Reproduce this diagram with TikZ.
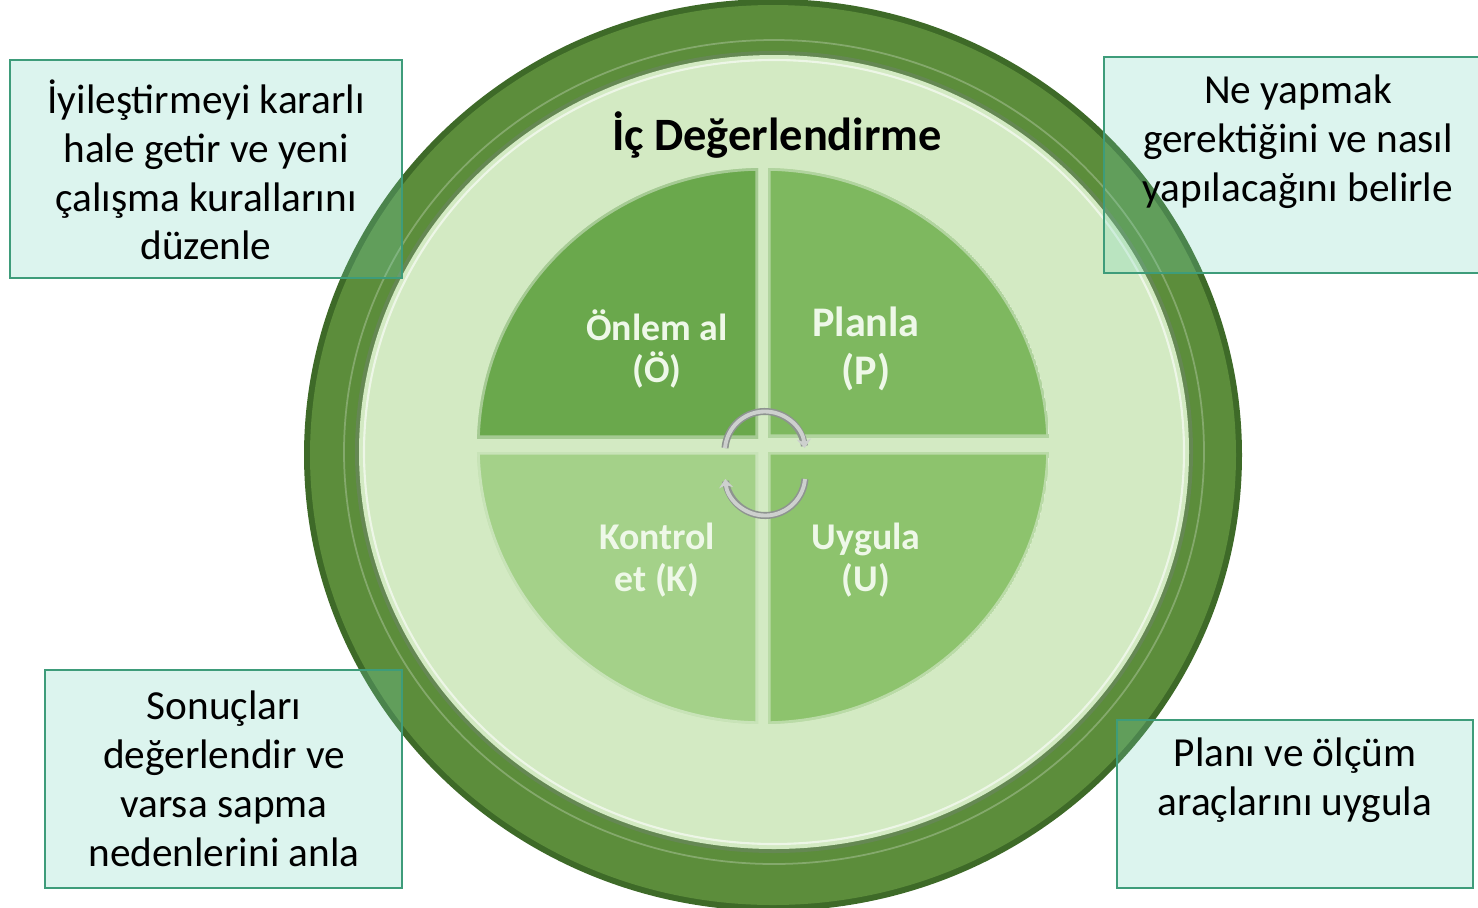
\documentclass[tikz,border=0pt]{standalone}
\usepackage{fontspec}
\setmainfont{Carlito}
\usetikzlibrary{arrows.meta}
\definecolor{ringdark}{HTML}{3E6A28}
\definecolor{ringgreen}{HTML}{5C8D3B}
\definecolor{lightdisc}{HTML}{D3EAC3}
\definecolor{quadol}{HTML}{6AA84C}
\definecolor{quadpl}{HTML}{7EB85F}
\definecolor{quadke}{HTML}{A4D189}
\definecolor{quaduy}{HTML}{8DC36D}
\definecolor{quadtxt}{HTML}{EEF8E8}
\definecolor{boxfill}{HTML}{73D3BB}
\definecolor{boxedge}{HTML}{3E9C7A}
\definecolor{cyclegray}{HTML}{CDD0CE}
\definecolor{cycleedge}{HTML}{8E9490}

\begin{document}
\begin{tikzpicture}[scale=0.2]
      \tikzstyle{every node}+=[inner sep=0pt]
      \tikzstyle{infobox}=[draw=boxedge, line width=1.3pt, fill=boxfill, fill opacity=0.25]
      \tikzstyle{boxtext}=[align=center, font=\fontsize{23.5}{27.8}\selectfont]
      \tikzstyle{quadtext}=[align=center, text=quadtxt, font=\bfseries\fontsize{21.5}{24}\selectfont]
      \tikzstyle{bevel}=[draw=white, draw opacity=0.4, line width=3pt]
      \tikzstyle{cycleback}=[cycleedge, line width=4pt]
      \tikzstyle{cycle}=[cyclegray, line width=2.2pt, -{Stealth[length=5pt,width=8pt]}]
      \useasboundingbox (0,0) rectangle (147.8,-90.7);
      % outer ring and light disc
      \fill [ringdark] (77.3,-45.5) ellipse [x radius=46.9, y radius=45.6];
      \fill [ringgreen] (77.3,-45.5) ellipse [x radius=46.3, y radius=45];
      \draw [white, opacity=0.25, line width=1pt] (77.4,-45.2) ellipse [x radius=43, y radius=41.2];
      \fill [ringdark!80] (77.4,-45.2) ellipse [x radius=41.9, y radius=40.1];
      \fill [lightdisc] (77.4,-45.2) ellipse [x radius=41.5, y radius=39.7];
      \draw [white, opacity=0.6, line width=1.2pt] (77.4,-45.2) ellipse [x radius=41, y radius=39.2];
      % four quarters
      \begin{scope}
        \clip (40,-10) rectangle (75.8,-43.8);
        \clip (76.3,-44.6) ellipse [x radius=28.6, y radius=27.8];
        \fill [quadol] (76.3,-44.6) ellipse [x radius=28.6, y radius=27.8];
        \draw [bevel] (76.3,-44.6) ellipse [x radius=28.6, y radius=27.8] (40,-10) rectangle (75.8,-43.8);
      \end{scope}
      \begin{scope}
        \clip (76.8,-10) rectangle (110,-43.7);
        \clip (76.3,-44.6) ellipse [x radius=28.6, y radius=27.8];
        \fill [quadpl] (76.3,-44.6) ellipse [x radius=28.6, y radius=27.8];
        \draw [bevel] (76.3,-44.6) ellipse [x radius=28.6, y radius=27.8] (76.8,-10) rectangle (110,-43.7);
      \end{scope}
      \begin{scope}
        \clip (40,-45.2) rectangle (75.8,-80);
        \clip (76.3,-44.6) ellipse [x radius=28.6, y radius=27.8];
        \fill [quadke] (76.3,-44.6) ellipse [x radius=28.6, y radius=27.8];
        \draw [bevel] (76.3,-44.6) ellipse [x radius=28.6, y radius=27.8] (40,-45.2) rectangle (75.8,-80);
      \end{scope}
      \begin{scope}
        \clip (76.8,-45.2) rectangle (110,-80);
        \clip (76.3,-44.6) ellipse [x radius=28.6, y radius=27.8];
        \fill [quaduy] (76.3,-44.6) ellipse [x radius=28.6, y radius=27.8];
        \draw [bevel] (76.3,-44.6) ellipse [x radius=28.6, y radius=27.8] (76.8,-45.2) rectangle (110,-80);
      \end{scope}
      % cycle arrows
      \draw [cycleback] (72.5,-44.8) arc (175:8:4);
      \draw [cycle] (72.5,-44.8) arc (175:5:4);
      \draw [cycleback] (80.5,-47.9) arc (-5:-172:4);
      \draw [cycle] (80.5,-47.9) arc (-5:-175:4);
      % texts
      \node [font=\bfseries\fontsize{26.4}{30}\selectfont] (title) at (77.7,-13.5) {İç Değerlendirme};
      \node [quadtext] (onlem) at (65.7,-34.9) {Önlem al\\(Ö)};
      \node [quadtext, font=\bfseries\fontsize{24}{27}\selectfont] (planla) at (86.6,-34.9) {Planla\\(P)};
      \node [quadtext] (kontrol) at (65.7,-56) {Kontrol\\et (K)};
      \node [quadtext] (uygula) at (86.6,-56) {Uygula\\(U)};
      % side boxes
      \draw [infobox] (1,-6) rectangle (40.2,-27.8);
      \node [boxtext] (act) at (20.6,-17) {İyileştirmeyi kararlı\\hale getir ve yeni\\çalışma kurallarını\\düzenle};
      \draw [infobox] (110.4,-5.7) rectangle (149,-27.3);
      \node [boxtext] (plan) at (129.8,-14.2) {Ne yapmak\\gerektiğini ve nasıl\\yapılacağını belirle};
      \draw [infobox] (4.5,-67) rectangle (40.2,-88.8);
      \node [boxtext] (check) at (22.4,-77.9) {Sonuçları\\değerlendir ve\\varsa sapma\\nedenlerini anla};
      \draw [infobox] (111.7,-72) rectangle (147.3,-88.8);
      \node [boxtext] (do) at (129.5,-78) {Planı ve ölçüm\\araçlarını uygula};
\end{tikzpicture}
\end{document}
